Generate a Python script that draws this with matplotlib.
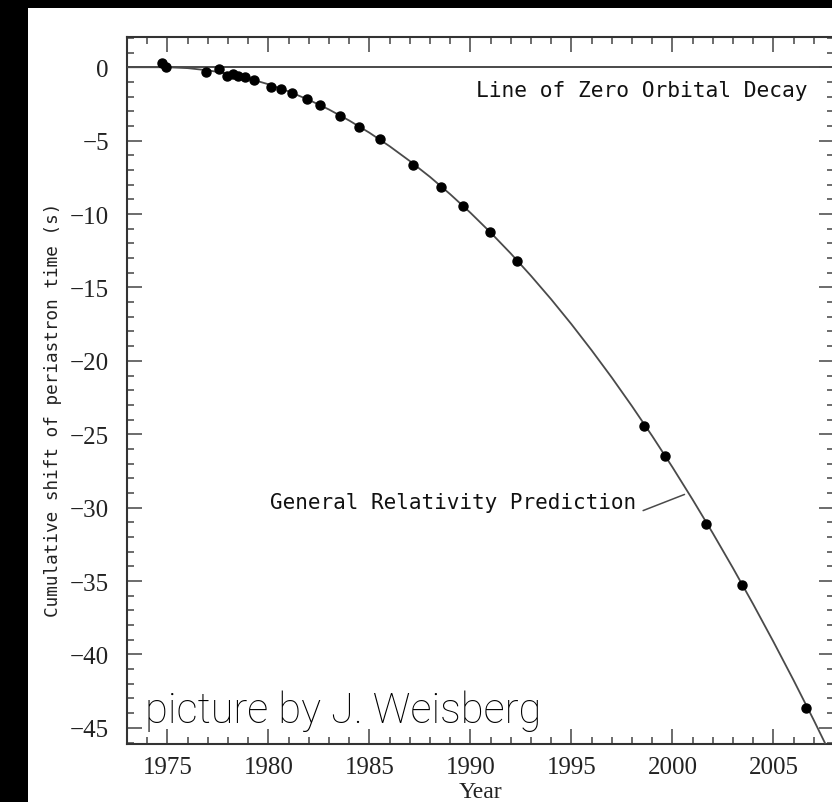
import matplotlib
matplotlib.use("Agg")
import matplotlib.pyplot as plt
from matplotlib.patches import Rectangle
from matplotlib.ticker import MultipleLocator

obs_year = [1974.74, 1974.94, 1976.93, 1977.56, 1977.96, 1978.24, 1978.49, 1978.82,
            1979.31, 1980.11, 1980.60, 1981.15, 1981.93, 1982.55, 1983.53, 1984.50,
            1985.53, 1987.18, 1988.53, 1989.63, 1990.95, 1992.30, 1998.61, 1999.61,
            2001.64, 2003.46, 2006.62]
obs_shift = [0.27, 0.04, -0.34, -0.10, -0.61, -0.46, -0.59, -0.66,
             -0.89, -1.32, -1.46, -1.75, -2.18, -2.59, -3.32, -4.07,
             -4.90, -6.64, -8.13, -9.47, -11.20, -13.20, -24.46, -26.50,
             -31.10, -35.30, -43.67]

# general relativity prediction, read yearly along the curve
gr_year = list(range(1973, 2009))
gr_shift = [0.0, 0.0, 0.0, -0.06, -0.21, -0.44, -0.76, -1.16, -1.65, -2.22,
            -2.88, -3.63, -4.46, -5.38, -6.39, -7.47, -8.65, -9.91, -11.26, -12.69,
            -14.21, -15.81, -17.50, -19.28, -21.14, -23.09, -25.12, -27.24, -29.45, -31.74,
            -34.12, -36.58, -39.13, -41.76, -44.48, -47.29]

zero_decay = 0.0

W, H = 832, 803
fig = plt.figure(figsize=(W / 100, H / 100), dpi=100, facecolor="black")
# white paper area, black border on left/top
fig.patches.append(Rectangle((28 / W, 0), (W - 28) / W, (H - 9) / H,
                             transform=fig.transFigure, facecolor="white",
                             edgecolor="none", zorder=-10))

ax = fig.add_axes([127 / W, 1 - 745 / H, 707 / W, 707 / H])
ax.set_facecolor("white")

line_col = "#4a4a4a"
ax.axhline(zero_decay, color=line_col, lw=1.4, zorder=2)
ax.plot(gr_year, gr_shift, color=line_col, lw=1.3, zorder=3)
ax.plot(obs_year, obs_shift, "o", color="black", ms=6.5, zorder=4)

ax.set_xlim(1973, 2008)
ax.set_ylim(-46.1, 2.06)

ax.xaxis.set_major_locator(MultipleLocator(5))
ax.xaxis.set_minor_locator(MultipleLocator(1))
ax.yaxis.set_major_locator(MultipleLocator(5))
ax.yaxis.set_minor_locator(MultipleLocator(1))
ax.tick_params(which="both", direction="in", top=True, right=True, color="#444444", width=1.1)
ax.tick_params(which="major", length=10.5)
ax.tick_params(which="minor", length=5)
ax.tick_params(axis="x", which="major", pad=9)
ax.tick_params(axis="y", which="major", pad=13)
for sp in ax.spines.values():
    sp.set_color("#333333")
    sp.set_linewidth(1.5)

serif = "Liberation Serif"
mono = "DejaVu Sans Mono"
for lab in ax.get_xticklabels() + ax.get_yticklabels():
    lab.set_fontfamily(serif)
    lab.set_fontsize(18)
    lab.set_color("#222222")

ax.set_xlabel("Year", family=serif, fontsize=17, color="#222222", labelpad=2)
fig.text(53 / W, 1 - 410 / H, "Cumulative shift of periastron time (s)", rotation=90,
         ha="center", va="center", family=mono, fontsize=12.7, color="#222222")

ax.text(2006.68, -1.55, "Line of Zero Orbital Decay", ha="right", va="center",
        family=mono, fontsize=15.3, color="#111111")
ax.text(1998.2, -29.62, "General Relativity Prediction", ha="right", va="center",
        family=mono, fontsize=15.1, color="#111111")
ax.annotate("", xy=(2000.6, -29.1), xytext=(1998.55, -30.2),
            arrowprops=dict(arrowstyle="-", color=line_col, lw=1.1,
                            shrinkA=0, shrinkB=0))

fig.text(145 / W, 1 - 723 / H, "picture by J. Weisberg", ha="left", va="baseline",
         family="Roboto", fontweight="light", fontsize=30, color="black", zorder=10)

fig.savefig("out.png", dpi=100, facecolor="black")
